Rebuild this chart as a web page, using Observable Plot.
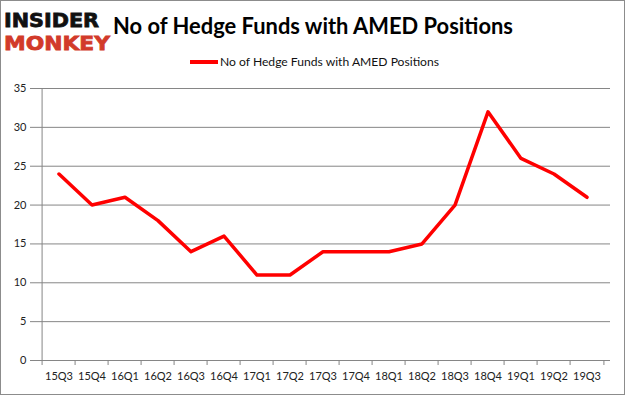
<!DOCTYPE html>
<html>
<head>
<meta charset="utf-8">
<script src="https://cdn.jsdelivr.net/npm/d3@7"></script>
<script src="https://cdn.jsdelivr.net/npm/@observablehq/plot@0.6"></script>
<style>
  body { margin: 0; background: #fff; }
  #wrap { position: relative; width: 625px; height: 395px; overflow: hidden; background: #fff; }
  #frame { position: absolute; left: 0; top: 0; width: 625px; height: 395px; box-sizing: border-box; border: 1px solid #8c8c8c; pointer-events: none; }
  #header { display: block; }
  #chart svg { display: block; }
</style>
</head>
<body>
<div id="wrap">
  <svg id="header" width="625" height="80" xmlns="http://www.w3.org/2000/svg">
    <text x="4" y="27" font-family="DejaVu Sans" font-weight="bold" font-size="19.5" fill="#111" stroke="#111" stroke-width="0.8" textLength="95" lengthAdjust="spacingAndGlyphs">INSIDER</text>
    <text x="4" y="50" font-family="DejaVu Sans" font-weight="bold" font-size="19.5" fill="#d23a2a" stroke="#d23a2a" stroke-width="0.8" textLength="106" lengthAdjust="spacingAndGlyphs">MONKEY</text>
    <text id="title" x="313" y="34" text-anchor="middle" font-family="Lato" font-weight="bold" font-size="22" fill="#000" textLength="400" lengthAdjust="spacingAndGlyphs">No of Hedge Funds with AMED Positions</text>
    <line x1="190" y1="62" x2="218" y2="62" stroke="#ff0000" stroke-width="4"/>
    <text id="legend" x="220" y="66" font-family="Lato" font-size="11.5" fill="#111" textLength="219" lengthAdjust="spacingAndGlyphs">No of Hedge Funds with AMED Positions</text>
  </svg>
  <div id="chart"></div>
  <div id="frame"></div>
</div>
<script>
const quarters = ["15Q3","15Q4","16Q1","16Q2","16Q3","16Q4","17Q1","17Q2","17Q3","17Q4","18Q1","18Q2","18Q3","18Q4","19Q1","19Q2","19Q3"];
const funds = [24, 20, 21, 18, 14, 16, 11, 11, 14, 14, 14, 15, 20, 32, 26, 24, 21];
const yTicks = [0, 5, 10, 15, 20, 25, 30, 35];
const seriesName = "No of Hedge Funds with AMED Positions";

const data = quarters.map((q, i) => ({q, v: funds[i]}));

const W = 625, H = 315, mL = 35, mR = 15, mT = 8, mB = 35;
const bw = (W - mL - mR) / quarters.length;
const gray = "#868686";

const plot = Plot.plot({
  width: W,
  height: H,
  marginLeft: mL,
  marginRight: mR,
  marginTop: mT,
  marginBottom: mB,
  style: {fontFamily: "Lato", fontSize: "11px", color: "#222", background: "transparent"},
  x: {type: "band", domain: quarters, padding: 0, label: null},
  y: {domain: [0, 35], label: null},
  marks: [
    Plot.gridY(yTicks, {stroke: gray, strokeOpacity: 1, strokeWidth: 1}),
    Plot.axisY(yTicks, {tickSize: 5, tickPadding: 4, stroke: gray, label: null, fontSize: 11, fill: "#222"}),
    Plot.axisX({tickSize: 0, tickPadding: 12, label: null, fontSize: 11, fill: "#222"}),
    Plot.ruleY([0], {stroke: gray}),
    Plot.ruleX([quarters[0]], {x: d => d, dx: -bw / 2, y1: 0, y2: 35, stroke: gray}),
    Plot.ruleX(quarters, {x: d => d, dx: -bw / 2, y1: 0, y2: 0, insetBottom: -5, stroke: gray}),
    Plot.ruleX([quarters[quarters.length - 1]], {x: d => d, dx: bw / 2, y1: 0, y2: 0, insetBottom: -5, stroke: gray}),
    Plot.line(data, {x: "q", y: "v", stroke: "#ff0000", strokeWidth: 3.5, title: () => seriesName})
  ]
});
document.getElementById("chart").appendChild(plot);
</script>
</body>
</html>
